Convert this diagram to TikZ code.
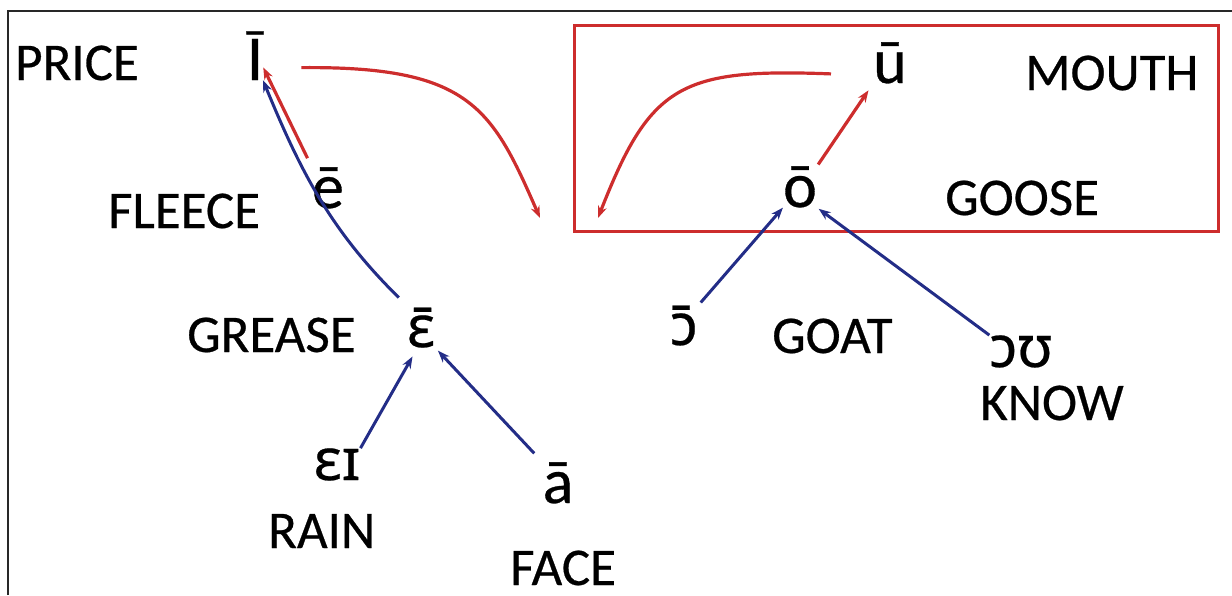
\documentclass[tikz,border=0pt]{standalone}
\usepackage{fontspec}
\setmainfont{Carlito}[FakeBold=0.5]
\newfontfamily\ipafont{Noto Sans}[FakeBold=0.4]
\usetikzlibrary{arrows.meta,calc}
\definecolor{arrred}{RGB}{205,45,45}
\definecolor{arrblue}{RGB}{35,45,135}
\definecolor{framegray}{RGB}{40,40,40}
\begin{document}
\begin{tikzpicture}[x=1pt,y=-1pt,
  lbl/.style={inner sep=0pt, anchor=base west, font=\fontsize{53}{60}\selectfont},
  vow/.style={inner sep=0pt, anchor=base, font=\fontsize{64}{72}\selectfont},
  ipav/.style={inner sep=0pt, anchor=base, font=\ipafont\fontsize{58}{66}\selectfont},
  tip/.style={-{Stealth[length=12pt,width=9pt]}},
  redarr/.style={draw=arrred, line width=3.2pt, tip},
  bluearr/.style={draw=arrblue, line width=3pt, tip},
  redbox/.style={draw=arrred, line width=3pt},
  framel/.style={draw=framegray, line width=2pt}
]
\useasboundingbox (0,0) rectangle (1232,595);
% frame
\draw[framel] (8,595) -- (8,11) -- (1232,11);
% box round the back vowels
\draw[redbox] (574,25) rectangle (1218,231);

% labels
\node[lbl] (price)  at (15,80)   {PRICE};
\node[lbl] (fleece) at (108,228) {FLEECE};
\node[lbl] (grease) at (187,352) {GREASE};
\node[lbl] (rain)   at (268,548) {RAIN};
\node[lbl] (face)   at (510,585) {FACE};
\node[lbl] (mouth)  at (1025,90) {MOUTH};
\node[lbl] (goose)  at (945,215) {GOOSE};
\node[lbl] (goat)   at (772,353) {GOAT};
\node[lbl] (know)   at (980,420) {KNOW};

% vowels
\node[vow] (I)   at (255,80)  {Ī};
\node[vow] (e)   at (328,208) {ē};
\node[ipav] (eps) at (421,347) {ɛ̄};
\node[ipav] (ei)  at (337,480) {ɛɪ};
\node[vow] (a)   at (558,503) {ā};
\node[vow] (u)   at (890,83)  {ū};
\node[vow] (o)   at (800,207) {ō};
\node[ipav] (oo)  at (684,345) {ɔ̄};
\node[ipav] (ou)  at (1021,367) {ɔʊ};

\coordinate (endA) at (540,218);
\coordinate (endB) at (598,218);

% red arrows
\draw[redarr] ($(I.east)+(38,12)$) .. controls (470,66) and (492,108) .. (endA);
\draw[redarr] ($(u.west)+(-42,11)$) .. controls (680,68) and (650,85) .. (endB);
\draw[redarr, shorten <=10pt] (e.north west) -- (I.-55);
\draw[redarr, shorten <=2pt, shorten >=8pt] (o.north east) -- (u.south west);

% blue arrows
\draw[bluearr] ($(eps.north west)+(-8,-10)$) .. controls (330,230) and (300,170) .. (I.-72);
\draw[bluearr, shorten >=10pt] (ei.north east) -- (eps.-100);
\draw[bluearr, shorten <=12pt, shorten >=4pt] (a.north west) -- (eps.south east);
\draw[bluearr, shorten <=4pt] (oo.north east) -- (o.south west);
\draw[bluearr, shorten >=2pt] (ou.north west) -- (o.south east);
\end{tikzpicture}
\end{document}
